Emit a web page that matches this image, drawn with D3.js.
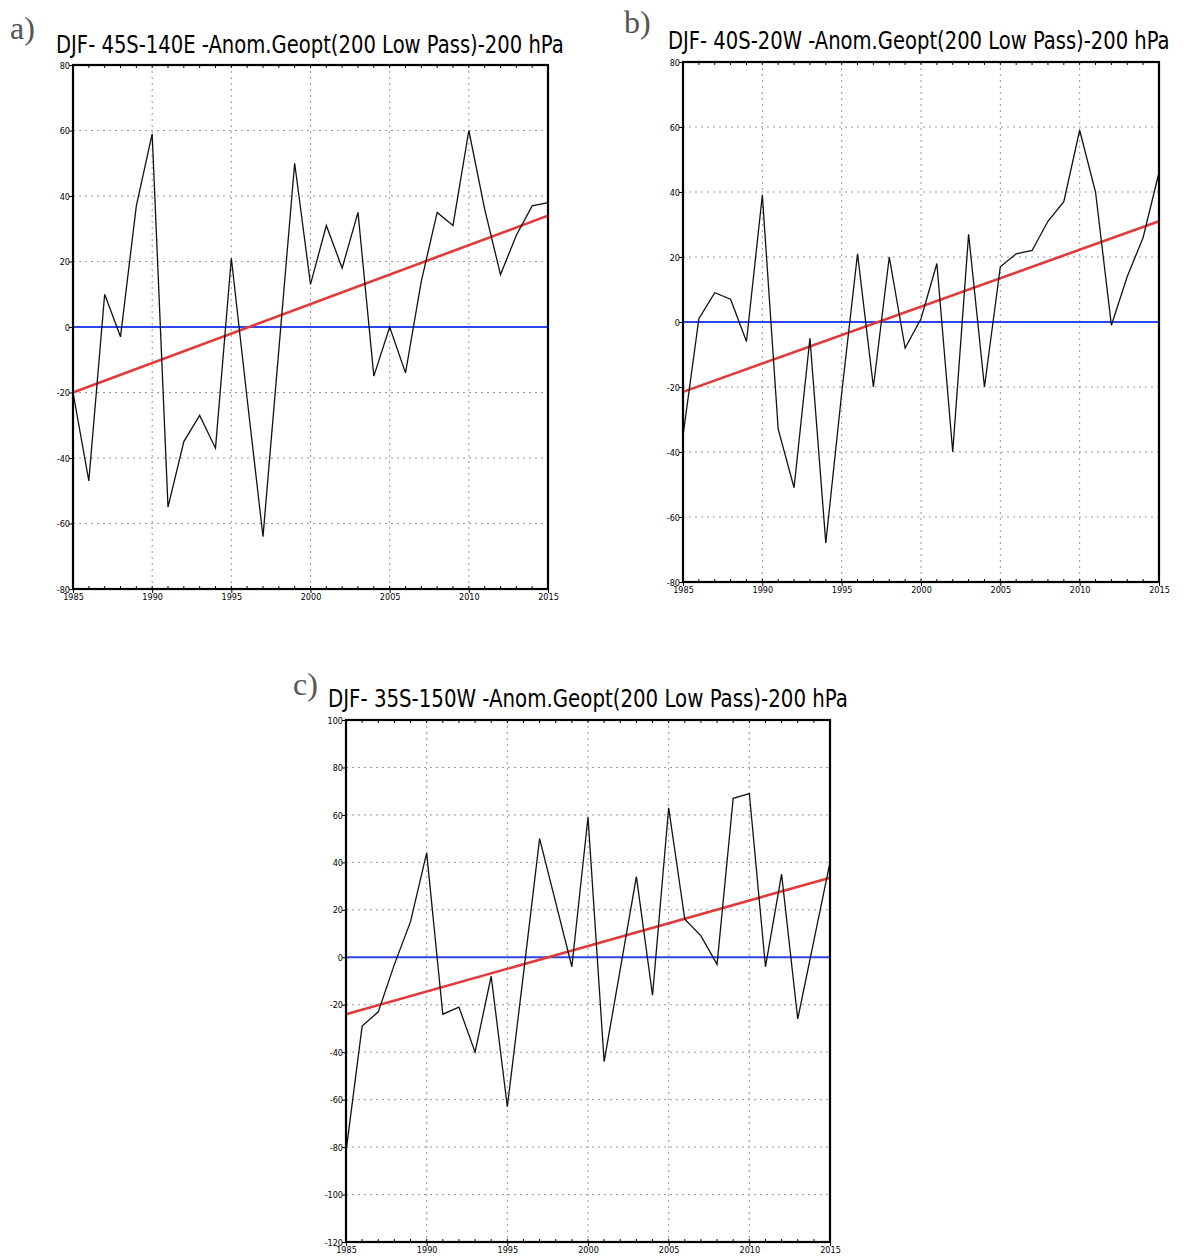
<!DOCTYPE html>
<html>
<head>
<meta charset="utf-8">
<script src="https://cdn.jsdelivr.net/npm/d3@7"></script>
<style>
  body { margin: 0; background: #fff; }
  svg { display: block; }
</style>
</head>
<body>
<div id="chart"></div>
<script>
// years on the x axis (DJF seasons)
const years = [1985, 1986, 1987, 1988, 1989, 1990, 1991, 1992, 1993, 1994, 1995, 1996, 1997, 1998, 1999, 2000,
               2001, 2002, 2003, 2004, 2005, 2006, 2007, 2008, 2009, 2010, 2011, 2012, 2013, 2014, 2015];
const yearTicks = [1985, 1990, 1995, 2000, 2005, 2010, 2015];

// anomaly series
const seriesA = [-20, -47, 10, -3, 37, 59, -55, -35, -27, -37, 21, -22, -64, -7, 50, 13,
                 31, 18, 35, -15, 0, -14, 14, 35, 31, 60, 36, 16, 28, 37, 38];
const seriesB = [-35, 1, 9, 7, -6, 39, -33, -51, -5, -68, -22, 21, -20, 20, -8, 1,
                 18, -40, 27, -20, 17, 21, 22, 31, 37, 59, 40, -1, 14, 26, 46];
const seriesC = [-82, -29, -23, -3, 15, 44, -24, -21, -40, -8, -63, -7, 50, 23, -4, 59,
                 -44, -5, 34, -16, 63, 16, 9, -3, 67, 69, -4, 35, -26, 7, 40];

// linear trend values at 1985 and 2015
const trendA = [-20, 34];
const trendB = [-21.5, 31];
const trendC = [-24, 33.5];

const ticksAB = [-80, -60, -40, -20, 0, 20, 40, 60, 80];
const ticksC = [-120, -100, -80, -60, -40, -20, 0, 20, 40, 60, 80, 100];

const titles = ["DJF- 45S-140E -Anom.Geopt(200 Low Pass)-200 hPa",
                "DJF- 40S-20W -Anom.Geopt(200 Low Pass)-200 hPa",
                "DJF- 35S-150W -Anom.Geopt(200 Low Pass)-200 hPa"];
const letters = ["a)", "b)", "c)"];

const svg = d3.select("#chart").append("svg")
    .attr("width", 1184)
    .attr("height", 1256);

const tickFont = "'Liberation Sans Narrow', 'DejaVu Sans Condensed', Arial, sans-serif";

function drawPanel(opt){
    let x = d3.scaleLinear().domain([1985, 2015]).range([opt.left, opt.right]);
    let y = d3.scaleLinear().domain([opt.ticks[0], opt.ticks[opt.ticks.length - 1]]).range([opt.bottom, opt.top]);
    let g = svg.append("g");

    // panel letter
    g.append("text")
        .text(opt.letter)
        .attr("x", opt.letterX)
        .attr("y", opt.letterY)
        .style("font-family", "'Liberation Serif', 'DejaVu Serif', serif")
        .style("font-size", "32px")
        .attr("fill", "#555");

    // title, squeezed horizontally to the width of the original
    let tg = g.append("g");
    let title = tg.append("text")
        .text(opt.title)
        .attr("x", 0)
        .attr("y", 0)
        .style("font-family", tickFont)
        .style("font-size", "24px")
        .attr("fill", "#000");
    let natural = title.node().getComputedTextLength();
    tg.attr("transform", "translate(" + opt.titleX + "," + opt.titleY + ") scale(" + (opt.titleW / natural) + ",1)");

    // dotted grid
    g.append("g").selectAll("line")
        .data(yearTicks.slice(1, -1))
        .enter().append("line")
        .attr("x1", d => x(d)).attr("x2", d => x(d))
        .attr("y1", opt.top).attr("y2", opt.bottom)
        .attr("stroke", "#999").attr("stroke-width", 1)
        .attr("stroke-dasharray", "2,4");
    g.append("g").selectAll("line")
        .data(opt.ticks.slice(1, -1))
        .enter().append("line")
        .attr("x1", opt.left).attr("x2", opt.right)
        .attr("y1", d => y(d)).attr("y2", d => y(d))
        .attr("stroke", "#999").attr("stroke-width", 1)
        .attr("stroke-dasharray", "2,4");

    // zero line
    g.append("line")
        .attr("x1", opt.left).attr("x2", opt.right)
        .attr("y1", y(0)).attr("y2", y(0))
        .attr("stroke", "#2b45f0").attr("stroke-width", 2.2);

    // trend line
    g.append("line")
        .attr("x1", x(1985)).attr("x2", x(2015))
        .attr("y1", y(opt.trend[0])).attr("y2", y(opt.trend[1]))
        .attr("stroke", "#e23a3a").attr("stroke-width", 2.6);

    // series
    let line = d3.line()
        .x((d, i) => x(years[i]))
        .y(d => y(d));
    g.append("path")
        .datum(opt.values)
        .attr("d", line)
        .attr("fill", "none")
        .attr("stroke", "#111")
        .attr("stroke-width", 1.3)
        .attr("stroke-linejoin", "miter");

    // axes
    let fmt = d => String(d);
    let yAxis = d3.axisLeft(y).tickValues(opt.ticks).tickSize(4).tickFormat(fmt);
    let xAxis = d3.axisBottom(x).tickValues(yearTicks).tickSize(4).tickFormat(fmt);
    let ya = g.append("g").attr("transform", "translate(" + opt.left + ",0)").call(yAxis);
    let xa = g.append("g").attr("transform", "translate(0," + opt.bottom + ")").call(xAxis);
    [ya, xa].forEach(a => {
        a.select(".domain").remove();
        a.selectAll("line").attr("stroke", "#000");
        a.selectAll("text")
            .style("font-family", tickFont)
            .style("font-size", "9px")
            .attr("fill", "#000");
    });
    ya.selectAll("text").attr("x", -3).attr("dy", "0.35em");
    xa.selectAll("text").attr("y", 5);

    // minor ticks on the frame
    g.append("g").selectAll("line")
        .data(years)
        .enter().append("line")
        .attr("x1", d => x(d)).attr("x2", d => x(d))
        .attr("y1", opt.bottom).attr("y2", opt.bottom - 3)
        .attr("stroke", "#000").attr("stroke-width", 1);
    g.append("g").selectAll("line")
        .data(years)
        .enter().append("line")
        .attr("x1", d => x(d)).attr("x2", d => x(d))
        .attr("y1", opt.top).attr("y2", opt.top + 3)
        .attr("stroke", "#000").attr("stroke-width", 1);

    // frame
    g.append("rect")
        .attr("x", opt.left).attr("y", opt.top)
        .attr("width", opt.right - opt.left)
        .attr("height", opt.bottom - opt.top)
        .attr("fill", "none")
        .attr("stroke", "#000")
        .attr("stroke-width", 2.2);
}

drawPanel({left: 73, right: 548, top: 65, bottom: 589, ticks: ticksAB, values: seriesA, trend: trendA,
           title: titles[0], titleX: 56, titleY: 53, titleW: 508, letter: letters[0], letterX: 10, letterY: 39});
drawPanel({left: 683, right: 1159, top: 62, bottom: 582, ticks: ticksAB, values: seriesB, trend: trendB,
           title: titles[1], titleX: 668, titleY: 49, titleW: 502, letter: letters[1], letterX: 624, letterY: 33});
drawPanel({left: 346, right: 830, top: 720, bottom: 1242, ticks: ticksC, values: seriesC, trend: trendC,
           title: titles[2], titleX: 328, titleY: 707, titleW: 520, letter: letters[2], letterX: 293, letterY: 695});
</script>
</body>
</html>
